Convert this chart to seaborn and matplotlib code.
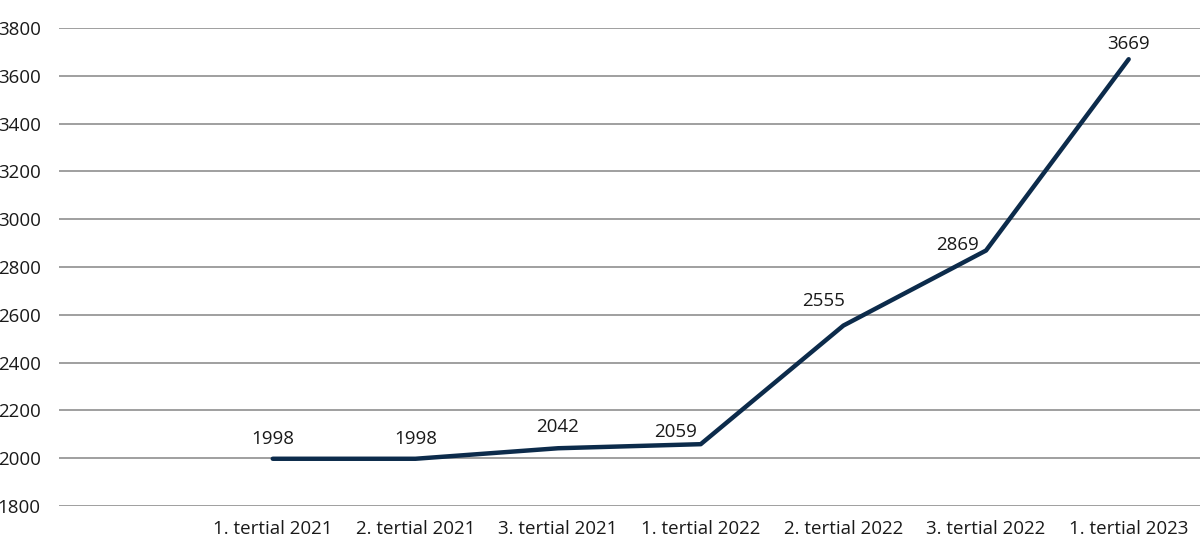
import matplotlib
matplotlib.use("Agg")
import matplotlib.pyplot as plt
import pandas as pd
import seaborn as sns

periods = [
    "1. tertial 2021",
    "2. tertial 2021",
    "3. tertial 2021",
    "1. tertial 2022",
    "2. tertial 2022",
    "3. tertial 2022",
    "1. tertial 2023",
]
values = [1998, 1998, 2042, 2059, 2555, 2869, 3669]
y_ticks = list(range(1800, 3801, 200))

sns.set_theme(style="white")
plt.rcParams["font.family"] = ["Open Sans", "DejaVu Sans"]

df = pd.DataFrame({"period": periods, "value": values})

fig = plt.figure(figsize=(12, 5.58), dpi=100)
ax = fig.add_axes([0.049, 0.093, 0.951, 0.857])

for t in y_ticks:
    ax.axhline(t, color="#9f9f9f", linewidth=1.4, zorder=0)

sns.lineplot(data=df, x="period", y="value", sort=False, color="#0c2b4b",
             linewidth=3.2, ax=ax, solid_capstyle="round")

# label placement (pixels), roughly as in the source chart
label_offsets = [(0, 20), (0, 20), (-1, 21), (-25, 12), (-20, 25), (-29, 6), (0, 15)]
for i, v in enumerate(values):
    dx, dy = label_offsets[i]
    ax.annotate(str(v), (i, v), xytext=(dx, dy), textcoords="offset pixels",
                ha="center", va="center", fontsize=13.5, color="#1a1a1a")

ax.set_xlim(-1.5, 6.5)
ax.set_ylim(1800, 3800)
ax.set_yticks(y_ticks)
ax.set_xlabel("")
ax.set_ylabel("")
ax.tick_params(axis="both", length=0, labelsize=13.5, colors="#1a1a1a")
ax.tick_params(axis="y", pad=13)
ax.tick_params(axis="x", pad=10)
for s in ax.spines.values():
    s.set_visible(False)

fig.savefig("out.png", dpi=100)
